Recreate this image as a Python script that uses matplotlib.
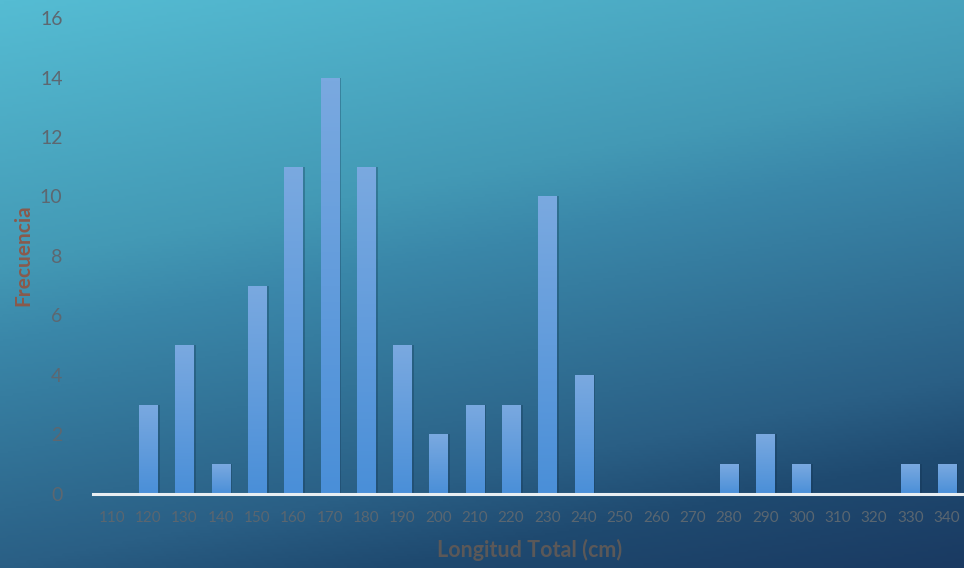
import numpy as np
import matplotlib.pyplot as plt
from matplotlib.colors import LinearSegmentedColormap

# Datos: longitud total (cm) vs frecuencia
longitud = [110, 120, 130, 140, 150, 160, 170, 180, 190, 200, 210, 220,
            230, 240, 250, 260, 270, 280, 290, 300, 310, 320, 330, 340]
frecuencia = [0, 3, 5, 1, 7, 11, 14, 11, 5, 2, 3, 3,
              10, 4, 0, 0, 0, 1, 2, 1, 0, 0, 1, 1]
y_ticks = [0, 2, 4, 6, 8, 10, 12, 14, 16]

plt.rcParams['font.family'] = ['Lato', 'DejaVu Sans']

fig = plt.figure(figsize=(9.64, 5.68), dpi=100)

# background gradient (cyan at the top -> dark navy bottom-right)
bg = fig.add_axes([0, 0, 1, 1], zorder=0)
gx, gy = np.meshgrid(np.linspace(0, 1, 400), np.linspace(0, 1, 240))
t = np.clip(0.25 * gx + 0.75 * gy, 0, 1)
bg_cmap = LinearSegmentedColormap.from_list(
    'bg', [(0.0, '#55bcd3'), (0.35, '#4399b5'), (0.45, '#3a87a9'),
           (0.75, '#2a5f85'), (0.85, '#1f4a70'), (1.0, '#1a3a62')])
bg.imshow(t, cmap=bg_cmap, aspect='auto', extent=[0, 1, 0, 1], origin='upper')
bg.set_axis_off()

ax = fig.add_axes([0.0965, 0.1303, 0.905, 0.838], zorder=1)
ax.patch.set_alpha(0)

x = np.arange(len(longitud))
bars = ax.bar(x, frecuencia, width=0.5, color='none', edgecolor='none', zorder=3)

bar_cmap = LinearSegmentedColormap.from_list('bar', ['#4a8fd8', '#7aa9e0'])
grad = np.linspace(0, 1, 100).reshape(-1, 1)
for b, v in zip(bars, frecuencia):
    if v == 0:
        continue
    x0 = b.get_x()
    w = b.get_width()
    # soft shadow on the right
    ax.bar(x0 + w / 2 + 0.07, v, width=w, color='#10304f', alpha=0.3,
           zorder=2, linewidth=0)
    im = ax.imshow(grad, cmap=bar_cmap, aspect='auto', origin='lower',
                   extent=[x0, x0 + w, 0, v], zorder=3)
    im.set_clip_path(b)

ax.set_xlim(-0.52, len(longitud) - 0.48)
ax.set_ylim(0, 16)
ax.set_xticks(x)
ax.set_xticklabels([str(v) for v in longitud], fontsize=11, color='#5a6670')
ax.set_yticks(y_ticks)
ax.set_yticklabels([str(v) for v in y_ticks], fontsize=14, color='#5d6770')
ax.tick_params(axis='both', length=0)
ax.tick_params(axis='x', pad=12)
ax.tick_params(axis='y', pad=22)

for s in ['top', 'right', 'left']:
    ax.spines[s].set_visible(False)
ax.spines['bottom'].set_color('#e8eef2')
ax.spines['bottom'].set_linewidth(2.2)
ax.spines['bottom'].set_zorder(5)

ax.set_xlabel('Longitud Total (cm)', fontsize=15.5, fontweight='bold',
              color='#5b5858', labelpad=10)
fig.text(0.024, 0.551, 'Frecuencia', rotation=90, fontsize=15,
         fontweight='bold', color='#8a5a4c', ha='center', va='center')

fig.savefig('out.png', dpi=100)
